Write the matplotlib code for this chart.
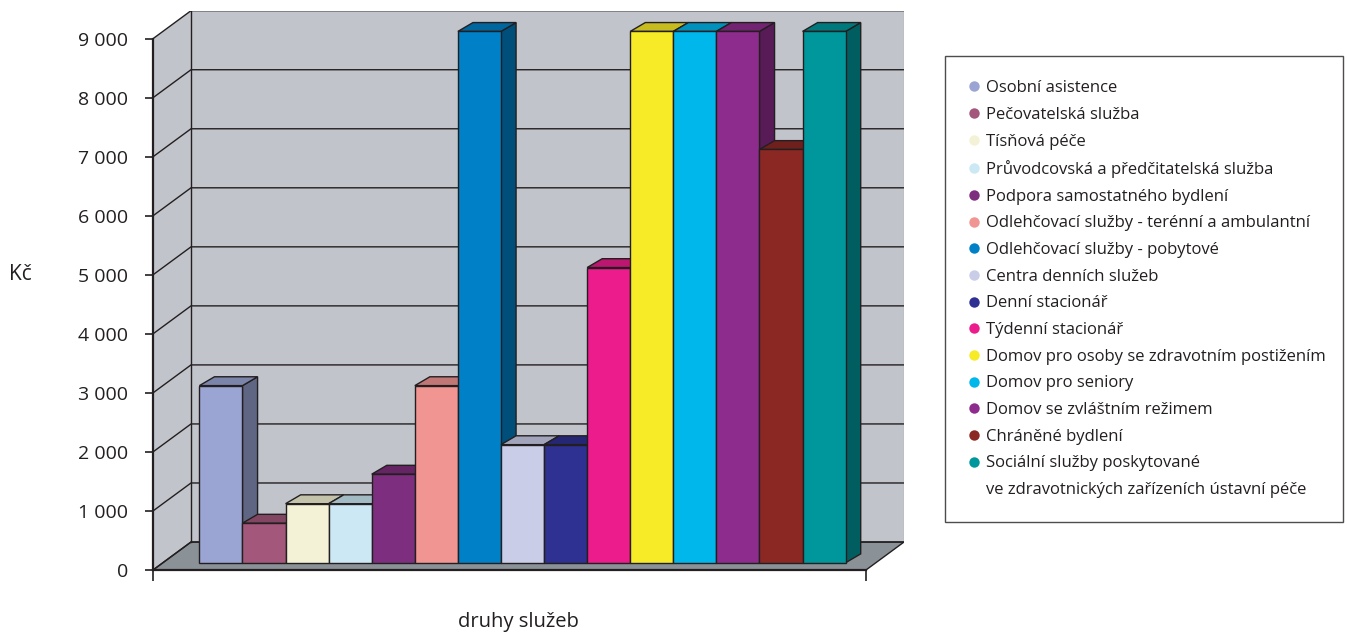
import matplotlib
matplotlib.use("Agg")
import matplotlib.pyplot as plt
from matplotlib.patches import Polygon
from matplotlib.lines import Line2D
from matplotlib.colors import to_rgb

plt.rcParams['font.family'] = ['Open Sans', 'DejaVu Sans']

services = ['Osobní asistence', 'Pečovatelská služba', 'Tísňová péče',
            'Průvodcovská a předčitatelská služba', 'Podpora samostatného bydlení',
            'Odlehčovací služby - terénní a ambulantní', 'Odlehčovací služby - pobytové',
            'Centra denních služeb', 'Denní stacionář', 'Týdenní stacionář',
            'Domov pro osoby se zdravotním postižením', 'Domov pro seniory',
            'Domov se zvláštním režimem', 'Chráněné bydlení',
            'Sociální služby poskytované\nve zdravotnických zařízeních ústavní péče']
values = [3000, 670, 1000, 1000, 1500, 3000, 9000, 2000, 2000, 5000,
          9000, 9000, 9000, 7000, 9000]
colors = ['#9aa5d3', '#a3577a', '#f4f2d6', '#cbe8f4', '#7e2e7e', '#f19592',
          '#0080c6', '#c9cde8', '#2e3192', '#ec1c8c', '#f7eb27', '#00b7eb',
          '#8e2c8e', '#8b2824', '#00979c']
yticks = list(range(0, 10000, 1000))

# oblique "3D" geometry in data units (x: one bar = 1, y: Kč)
YMAX = 9000
XF = 16.55          # floor width
DX, DY = 0.882, 474  # wall depth offset
BDX, BDY = 0.35, 150  # bar depth offset
DFRONT = 0.26        # bar front position inside the floor
X0 = 0.848
EDGE = '#231f20'
WALL = '#c1c4cb'
FLOOR = '#8a9197'

fig = plt.figure(figsize=(13.47, 6.33), dpi=100)
ax = fig.add_axes([153 / 1347, 63 / 633, 751 / 1347, 559.3 / 633])
ax.set_xlim(0, XF + DX)
ax.set_ylim(0, YMAX + DY)
ax.patch.set_alpha(0)

# walls and floor
back = [(DX, DY), (XF + DX, DY), (XF + DX, YMAX + DY), (DX, YMAX + DY)]
left = [(0, 0), (DX, DY), (DX, YMAX + DY), (0, YMAX)]
floor = [(0, 0), (XF, 0), (XF + DX, DY), (DX, DY)]
ax.add_patch(Polygon(back, closed=True, fc=WALL, ec='none', zorder=1))
ax.add_patch(Polygon(left, closed=True, fc=WALL, ec='none', zorder=1))
ax.add_patch(Polygon(floor, closed=True, fc=FLOOR, ec=EDGE, lw=1.0, zorder=1))

# gridlines on the left and back wall
for v in yticks:
    ax.plot([0, DX, XF + DX], [v, v + DY, v + DY], color=EDGE, lw=1.0, zorder=2)
ax.plot([DX, DX], [DY, YMAX + DY], color=EDGE, lw=1.0, zorder=2)
ax.plot([XF + DX, XF + DX], [DY, YMAX + DY], color='#6d6e71', lw=0.8, zorder=2)


def shade(c, k):
    r, g, b = to_rgb(c)
    return (r * k, g * k, b * k)


# bars, left to right so each front face covers the previous side face
for i, (v, c) in enumerate(zip(values, colors)):
    x0 = X0 + i + DFRONT * DX
    y0 = DFRONT * DY
    front = [(x0, y0), (x0 + 1, y0), (x0 + 1, y0 + v), (x0, y0 + v)]
    top = [(x0, y0 + v), (x0 + 1, y0 + v), (x0 + 1 + BDX, y0 + v + BDY), (x0 + BDX, y0 + v + BDY)]
    side = [(x0 + 1, y0), (x0 + 1 + BDX, y0 + BDY), (x0 + 1 + BDX, y0 + v + BDY), (x0 + 1, y0 + v)]
    ax.add_patch(Polygon(side, closed=True, fc=shade(c, 0.62), ec=EDGE, lw=1.0, zorder=3))
    ax.add_patch(Polygon(top, closed=True, fc=shade(c, 0.8), ec=EDGE, lw=1.0, zorder=3))
    ax.add_patch(Polygon(front, closed=True, fc=c, ec=EDGE, lw=1.0, zorder=3))

# axes
for s in ['top', 'right']:
    ax.spines[s].set_visible(False)
ax.spines['left'].set_bounds(0, YMAX)
ax.spines['bottom'].set_bounds(0, XF)
for s in ['left', 'bottom']:
    ax.spines[s].set_linewidth(1.6)
    ax.spines[s].set_color(EDGE)
    ax.spines[s].set_zorder(5)
ax.set_yticks(yticks)
ax.set_yticklabels([f'{v:,}'.replace(',', ' ') for v in yticks], fontsize=14)
ax.set_xticks([0, XF])
ax.set_xticklabels([])
ax.tick_params(axis='y', length=6, width=1.2, pad=12, color=EDGE, labelcolor=EDGE)
ax.tick_params(axis='x', length=8, width=1.2, color=EDGE)

fig.text(20 / 1347, 1 - 275 / 633, 'Kč', fontsize=15, color=EDGE, ha='center', va='center')
fig.text(518 / 1347, 1 - 622 / 633, 'druhy služeb', fontsize=14.5, color=EDGE, ha='center', va='center')

# legend: wrapped labels get their continuation lines as marker-less rows
handles, labels = [], []
for name, c in zip(services, colors):
    lines = name.split('\n')
    handles.append(Line2D([], [], ls='', marker='o', markersize=7.5, color=c, markeredgewidth=0))
    labels.append(lines[0])
    for extra in lines[1:]:
        handles.append(Line2D([], [], ls='', marker=''))
        labels.append(extra)
leg = ax.legend(handles, labels, loc='upper left',
                bbox_to_anchor=(945 / 1347, 1 - 56 / 633, 398 / 1347, 0),
                bbox_transform=fig.transFigure, mode='expand',
                fontsize=12, frameon=True, fancybox=False, borderpad=1.45,
                handlelength=0.6, handletextpad=0.4, labelspacing=0.64,
                borderaxespad=0)
leg.get_frame().set_edgecolor(EDGE)
leg.get_frame().set_linewidth(1.0)
for t in leg.get_texts():
    t.set_color(EDGE)

fig.savefig('out.png', dpi=100)
